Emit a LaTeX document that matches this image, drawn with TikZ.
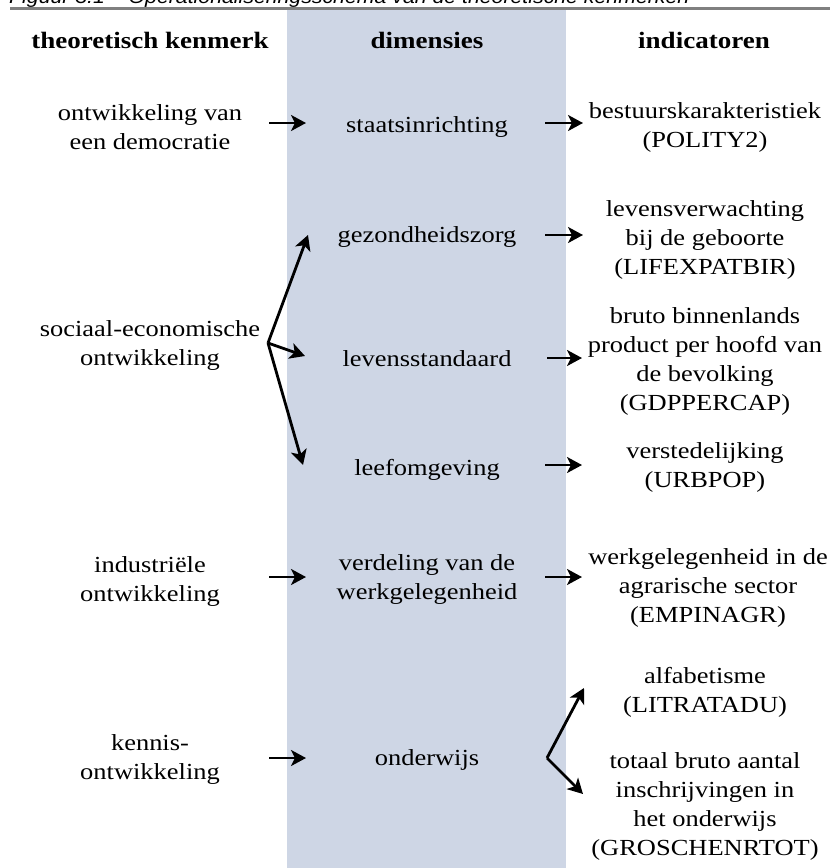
\documentclass[tikz,border=0pt]{standalone}
\usepackage{fontspec}
\setmainfont{Liberation Serif}[FakeStretch=1.15]
\newfontfamily\capfont{Liberation Sans}[FakeStretch=1.12]
\usetikzlibrary{arrows.meta}
\definecolor{band}{RGB}{206,214,229}
\definecolor{rulegray}{RGB}{128,128,128}
\begin{document}
\begin{tikzpicture}[x=1pt,y=-1pt,
  txt/.style={font=\fontsize{23}{29}\selectfont, align=center, anchor=base, inner sep=0pt},
  hdr/.style={txt, font=\fontsize{23.5}{29}\selectfont\bfseries},
  arr/.style={line width=2.8pt, -{Stealth[length=15pt,width=16pt,inset=4pt]}}]
\useasboundingbox (0,0) rectangle (830,868);
\fill[band] (287,10) rectangle (566,868);
\begin{scope}
\clip (0,0) rectangle (830,868);
\node[anchor=base west, inner sep=0pt, font=\capfont\itshape\fontsize{19}{22}\selectfont] (cap) at (9,3.5) {Figuur 3.1 – Operationaliseringsschema van de theoretische kenmerken};
\end{scope}
\draw[rulegray, line width=3pt] (10,8.7) -- (830,8.7);
% headers
\node[hdr] (h1) at (150,48) {theoretisch kenmerk};
\node[hdr] (h2) at (427,48) {dimensies};
\node[hdr] (h3) at (704,48) {indicatoren};
% left column (base = last line)
\node[txt] (L1) at (150,149) {ontwikkeling van\\een democratie};
\node[txt] (L2) at (150,365) {sociaal-economische\\ontwikkeling};
\node[txt] (L3) at (150,601) {industriële\\ontwikkeling};
\node[txt] (L4) at (150,779) {kennis-\\ontwikkeling};
% middle column
\node[txt] (M1) at (427,132) {staatsinrichting};
\node[txt] (M2) at (427,242) {gezondheidszorg};
\node[txt] (M3) at (427,366) {levensstandaard};
\node[txt] (M4) at (427,475) {leefomgeving};
\node[txt] (M5) at (427,599) {verdeling van de\\werkgelegenheid};
\node[txt] (M6) at (427,765) {onderwijs};
% right column
\node[txt] (R1) at (705,147) {bestuurskarakteristiek\\(POLITY2)};
\node[txt] (R2) at (705,274) {levensverwachting\\bij de geboorte\\(LIFEXPATBIR)};
\node[txt] (R3) at (705,410) {bruto binnenlands\\product per hoofd van\\de bevolking\\(GDPPERCAP)};
\node[txt] (R4) at (705,487) {verstedelijking\\(URBPOP)};
\node[txt] (R5) at (708,622) {werkgelegenheid in de\\agrarische sector\\(EMPINAGR)};
\node[txt] (R6) at (705,712) {alfabetisme\\(LITRATADU)};
\node[txt] (R7) at (705,855) {totaal bruto aantal\\inschrijvingen in\\het onderwijs\\(GROSCHENRTOT)};
% connector coordinates
\coordinate (a1s) at (269,123); \coordinate (a1e) at (306,123);
\coordinate (b1s) at (545,123); \coordinate (b1e) at (583,123);
\coordinate (f2) at (268,343);
\coordinate (f2a) at (308,235); \coordinate (f2b) at (305,356); \coordinate (f2c) at (303,465);
\coordinate (b2s) at (545,235); \coordinate (b2e) at (583,235);
\coordinate (b3s) at (547,358); \coordinate (b3e) at (582,358);
\coordinate (b4s) at (545,465); \coordinate (b4e) at (582,465);
\coordinate (a3s) at (269,577); \coordinate (a3e) at (306,577);
\coordinate (b5s) at (545,577); \coordinate (b5e) at (582,577);
\coordinate (a4s) at (269,758); \coordinate (a4e) at (306,758);
\coordinate (f6) at (547,758);
\coordinate (f6a) at (584,688); \coordinate (f6b) at (583,794);
% connectors
\draw[arr] (a1s) -- (a1e);
\draw[arr] (b1s) -- (b1e);
\draw[arr] (f2) -- (f2a);
\draw[arr] (f2) -- (f2b);
\draw[arr] (f2) -- (f2c);
\draw[arr] (b2s) -- (b2e);
\draw[arr] (b3s) -- (b3e);
\draw[arr] (b4s) -- (b4e);
\draw[arr] (a3s) -- (a3e);
\draw[arr] (b5s) -- (b5e);
\draw[arr] (a4s) -- (a4e);
\draw[arr] (f6) -- (f6a);
\draw[arr] (f6) -- (f6b);
\end{tikzpicture}
\end{document}
